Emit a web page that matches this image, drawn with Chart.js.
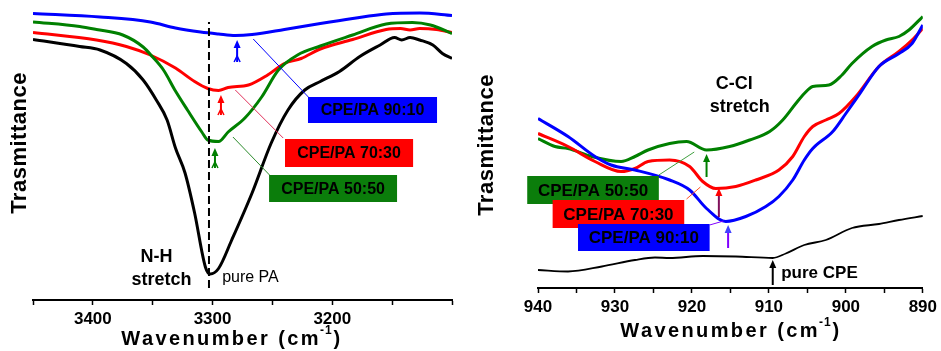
<!DOCTYPE html>
<html>
<head>
<meta charset="utf-8">
<script src="https://cdn.jsdelivr.net/npm/chart.js@4.4.1/dist/chart.umd.min.js"></script>
<style>
  html, body { margin: 0; padding: 0; background: #fff; }
  #wrap { position: relative; width: 941px; height: 351px; }
  #leftBox { position: absolute; left: 0; top: 0; width: 470px; height: 351px; }
  #rightBox { position: absolute; left: 470px; top: 0; width: 471px; height: 351px; }
</style>
</head>
<body>
<div id="wrap">
  <div id="leftBox"><canvas id="nhChart" width="470" height="351"></canvas></div>
  <div id="rightBox"><canvas id="ccChart" width="471" height="351"></canvas></div>
</div>
<script>
// ---- N-H stretch region (left panel) ----
const nhTicks = [3400, 3300, 3200];

const nh9010_wn = [3450, 3394, 3352, 3331, 3310, 3295, 3281, 3267, 3240, 3210, 3183, 3155, 3127, 3100];
const nh9010_t  = [286.5, 283, 278, 272, 268, 266, 264.5, 265.5, 270.5, 276.5, 281.5, 286, 287, 284.5];

const nh5050_wn = [3450, 3411, 3397, 3375, 3358, 3350, 3341, 3331, 3321, 3309, 3304, 3295, 3287, 3273, 3259, 3245, 3229, 3210, 3183, 3155, 3133, 3118, 3100];
const nh5050_t  = [278, 273.5, 270.5, 265, 253, 243, 230, 209, 190, 168, 160, 158.5, 168, 182, 203, 230, 245, 254, 265, 276, 277.5, 275, 266.5];

const nh7030_wn = [3450, 3397, 3372, 3352, 3331, 3315, 3304, 3295, 3287, 3270, 3254, 3240, 3226, 3210, 3183, 3155, 3143, 3135, 3127, 3113, 3100];
const nh7030_t  = [267.5, 260, 253.5, 245, 232, 218.5, 211.5, 209.5, 212.5, 215, 225, 236.5, 241.5, 251, 260.5, 270.5, 271.5, 270, 271.5, 270.5, 267.5];

const nhPA_wn = [3450, 3411, 3394, 3372, 3358, 3347, 3338, 3331, 3323, 3315, 3306, 3302, 3295, 3284, 3267, 3251, 3237, 3223, 3210, 3194, 3177, 3160, 3148, 3142, 3135, 3127, 3116, 3108, 3100];
const nhPA_t  = [260.5, 253.5, 250, 236.5, 220, 200, 180, 152, 127, 87, 33, 26, 31.5, 60, 107, 157, 190, 210, 218.5, 228.5, 243.5, 255, 262.5, 260, 262.5, 260, 255, 246.5, 241.5];

// ---- C-Cl stretch region (right panel) ----
const ccTicks = [940, 930, 920, 910, 900, 890];

const cc5050_wn = [940, 937.8, 936.1, 933, 929.2, 927.4, 925.7, 922.9, 920.7, 918.1, 915.1, 912.5, 909.9, 908.2, 906.5, 905.4, 904.3, 902.2, 900.5, 899.2, 896.6, 894.8, 893.1, 891.8, 890];
const cc5050_t  = [149.5, 141.5, 139.5, 131.5, 126.5, 131.5, 138, 144.5, 146.5, 138, 141.5, 148, 156.5, 168, 184.5, 194.5, 201.5, 203, 213, 224.5, 241.5, 248, 251.5, 258, 271.5];

const cc7030_wn = [940, 936.1, 932.6, 929.2, 927.4, 925.7, 922.9, 920.3, 918.6, 916.9, 914.3, 911.7, 908.7, 906.9, 905.4, 904.3, 902.6, 900.9, 898.7, 895.7, 893.1, 891.4, 890];
const cc7030_t  = [154.5, 141.5, 126.5, 116.5, 119.5, 126.5, 128, 121.5, 106.5, 99.5, 101.5, 108, 118, 131.5, 151.5, 161.5, 168, 174.5, 191.5, 221.5, 236.5, 248, 259.5];

const cc9010_wn = [940, 936.1, 932.6, 930.5, 927.4, 922.9, 920.3, 918.1, 915.6, 913, 910.4, 908.7, 906.9, 905.4, 904.3, 901.7, 900, 898.3, 895.7, 893.1, 891.4, 890];
const cc9010_t  = [169.5, 151.5, 131.5, 123, 118, 108, 98, 79.5, 66.5, 71.5, 81.5, 91.5, 108, 128, 139.5, 156.5, 174.5, 193, 221.5, 234.5, 244.5, 263];

const ccCPE_wn = [940, 936.1, 931.7, 927.4, 924.8, 922.9, 918.6, 914.3, 909.5, 907.8, 905.4, 902.6, 899.2, 895.7, 893.1, 890];
const ccCPE_t  = [18, 16.5, 21.5, 28, 30.5, 30, 32, 31.5, 30, 34.5, 43, 48, 60, 64, 68, 72];

const FONT = "'Liberation Sans', Arial, Helvetica, sans-serif";
const BLUE = '#0000ff', RED = '#ff0000', GREEN = '#008000';

function toPoints(wn, t) {
    return wn.map((w, i) => ({ x: w, y: t[i] }));
}

function lineSet(label, wn, t, color, width) {
    return {
        label: label,
        data: toPoints(wn, t),
        borderColor: color,
        borderWidth: width,
        pointRadius: 0,
        fill: false,
        cubicInterpolationMode: 'monotone'
    };
}

// draws titles, label boxes, leader lines and arrows on top of the chart
function annotPlugin(spec) {
    return {
        id: 'annot',
        afterDraw(chart) {
            const ctx = chart.ctx;
            const px = v => chart.scales.x.getPixelForValue(v);
            const py = v => chart.scales.y.getPixelForValue(v);
            ctx.save();

            // y title
            ctx.save();
            ctx.translate(spec.yTitle.x, spec.yTitle.y);
            ctx.rotate(-Math.PI / 2);
            ctx.font = 'bold 22px ' + FONT;
            ctx.letterSpacing = '0.5px';
            ctx.fillStyle = '#000';
            ctx.textAlign = 'center';
            ctx.textBaseline = 'middle';
            ctx.fillText('Trasmittance', 0, 0);
            ctx.restore();

            // x title with superscript
            ctx.save();
            ctx.fillStyle = '#000';
            ctx.textBaseline = 'alphabetic';
            ctx.textAlign = 'left';
            const mainFont = 'bold 20px ' + FONT, supFont = 'bold 12px ' + FONT;
            ctx.letterSpacing = '2.4px';
            ctx.font = mainFont;
            const w1 = ctx.measureText('Wavenumber (cm').width;
            const w3 = ctx.measureText(')').width;
            ctx.font = supFont;
            ctx.letterSpacing = '1px';
            const w2 = ctx.measureText('-1').width;
            let xs = spec.xTitle.x - (w1 + w2 + w3) / 2;
            const yb = spec.xTitle.y;
            ctx.font = mainFont; ctx.letterSpacing = '2.4px';
            ctx.fillText('Wavenumber (cm', xs, yb);
            ctx.font = supFont; ctx.letterSpacing = '1px';
            ctx.fillText('-1', xs + w1 - 1, yb - 11);
            ctx.font = mainFont; ctx.letterSpacing = '2.4px';
            ctx.fillText(')', xs + w1 + w2, yb);
            ctx.restore();
            ctx.letterSpacing = '0px';

            // dashed marker line
            (spec.dashes || []).forEach(d => {
                ctx.save();
                ctx.strokeStyle = '#000';
                ctx.lineWidth = 2;
                ctx.setLineDash([8, 4]);
                ctx.beginPath();
                ctx.moveTo(px(d.x), py(d.y0));
                ctx.lineTo(px(d.x), py(d.y1));
                ctx.stroke();
                ctx.restore();
            });

            // leader lines
            spec.leaders.forEach(l => {
                ctx.strokeStyle = l.color;
                ctx.lineWidth = 1;
                ctx.beginPath();
                ctx.moveTo(px(l.x1), py(l.y1));
                ctx.lineTo(px(l.x2), py(l.y2));
                ctx.stroke();
            });

            // label boxes
            spec.boxes.forEach(b => {
                const x1 = px(b.x1), x2 = px(b.x2), y1 = py(b.y1), y2 = py(b.y2);
                ctx.fillStyle = b.color;
                ctx.fillRect(x1, y1, x2 - x1, y2 - y1);
                ctx.fillStyle = '#000';
                ctx.font = 'bold ' + b.size + 'px ' + FONT;
                ctx.textAlign = 'center';
                ctx.textBaseline = 'middle';
                ctx.fillText(b.text, (x1 + x2) / 2, (y1 + y2) / 2 + 1);
            });

            // arrows
            spec.arrows.forEach(a => {
                const x = px(a.x), yb = py(a.y0), yt = py(a.y1);
                ctx.strokeStyle = a.shaft || a.color;
                ctx.lineWidth = 2;
                ctx.beginPath();
                ctx.moveTo(x, yb);
                ctx.lineTo(x, yt + 6);
                ctx.stroke();
                ctx.fillStyle = a.color;
                ctx.beginPath();
                ctx.moveTo(x, yt);
                ctx.lineTo(x - 3.5, yt + 8);
                ctx.lineTo(x + 3.5, yt + 8);
                ctx.closePath();
                ctx.fill();
                if (a.tail) {
                    ctx.strokeStyle = a.color;
                    ctx.lineWidth = 1.5;
                    ctx.beginPath();
                    ctx.moveTo(x - 3, yb);
                    ctx.lineTo(x, yb - 6);
                    ctx.lineTo(x + 3, yb);
                    ctx.stroke();
                }
            });

            // free texts
            spec.texts.forEach(t => {
                ctx.fillStyle = '#000';
                ctx.font = t.font + 'px ' + FONT;
                ctx.textAlign = t.align;
                ctx.textBaseline = 'alphabetic';
                ctx.fillText(t.text, px(t.x), py(t.y));
            });

            ctx.restore();
        }
    };
}

function xAxis(min, max, step, major) {
    return {
        type: 'linear',
        reverse: true,
        min: min,
        max: max,
        border: { display: true, color: '#000', width: 2 },
        grid: { display: true, drawOnChartArea: false, drawTicks: true, tickLength: 5, tickColor: '#000', tickWidth: 1.5 },
        ticks: {
            stepSize: step,
            autoSkip: false,
            maxRotation: 0,
            padding: 4,
            color: '#000',
            font: { family: FONT, size: 17, weight: 'bold' },
            callback: v => major.includes(v) ? String(v) : ''
        }
    };
}

function baseOptions(xScale, yMax, pad) {
    return {
        responsive: false,
        animation: false,
        devicePixelRatio: 1,
        events: [],
        layout: { padding: pad },
        plugins: { legend: { display: false }, tooltip: { enabled: false } },
        scales: {
            x: xScale,
            y: { display: false, min: 0, max: yMax }
        }
    };
}

// left chart: N-H stretch
new Chart(document.getElementById('nhChart').getContext('2d'), {
    type: 'line',
    data: {
        datasets: [
            lineSet('pure PA', nhPA_wn, nhPA_t, '#000', 3),
            lineSet('CPE/PA 50:50', nh5050_wn, nh5050_t, GREEN, 3),
            lineSet('CPE/PA 70:30', nh7030_wn, nh7030_t, RED, 3),
            lineSet('CPE/PA 90:10', nh9010_wn, nh9010_t, BLUE, 3)
        ]
    },
    options: baseOptions(xAxis(3100, 3450, 50, nhTicks), 295, { left: 33, right: 18, top: 5, bottom: 17.6 }),
    plugins: [annotPlugin({
        yTitle: { x: 20, y: 143 },
        xTitle: { x: 232, y: 345 },
        dashes: [{ x: 3303, y0: 12, y1: 278 }],
        leaders: [
            { x1: 3266, y1: 261, x2: 3220, y2: 203, color: BLUE },
            { x1: 3281, y1: 210, x2: 3241, y2: 162, color: '#e0305a' },
            { x1: 3283, y1: 163, x2: 3250, y2: 122, color: '#2a8a2a' }
        ],
        boxes: [
            { x1: 3220.3, x2: 3112.5, y1: 203, y2: 177, color: BLUE, text: 'CPE/PA 90:10', size: 16 },
            { x1: 3239.5, x2: 3132.5, y1: 161, y2: 133, color: RED, text: 'CPE/PA 70:30', size: 16 },
            { x1: 3252.8, x2: 3145.9, y1: 125, y2: 98, color: '#0b7d0b', text: 'CPE/PA 50:50', size: 16 }
        ],
        arrows: [
            { x: 3279.5, y0: 238, y1: 260, color: BLUE, tail: true },
            { x: 3293, y0: 185, y1: 205, color: RED, tail: true },
            { x: 3298, y0: 132, y1: 152, color: GREEN, tail: true }
        ],
        texts: [
            { text: 'N-H', x: 3346.8, y: 38, align: 'center', font: 'bold 18' },
            { text: 'stretch', x: 3342.6, y: 15, align: 'center', font: 'bold 18' },
            { text: 'pure PA', x: 3292, y: 18, align: 'left', font: '16' }
        ]
    })]
});

// right chart: C-Cl stretch
new Chart(document.getElementById('ccChart').getContext('2d'), {
    type: 'line',
    data: {
        datasets: [
            lineSet('pure CPE', ccCPE_wn, ccCPE_t, '#000', 1.8),
            lineSet('CPE/PA 90:10', cc9010_wn, cc9010_t, BLUE, 3),
            lineSet('CPE/PA 70:30', cc7030_wn, cc7030_t, RED, 3),
            lineSet('CPE/PA 50:50', cc5050_wn, cc5050_t, GREEN, 3)
        ]
    },
    options: baseOptions(xAxis(890, 940, 5, ccTicks), 283, { left: 68, right: 17, top: 5, bottom: 29.6 }),
    plugins: [annotPlugin({
        yTitle: { x: 16.5, y: 145 },
        xTitle: { x: 261, y: 337 },
        leaders: [
            { x1: 924.3, y1: 113, x2: 919.7, y2: 136, color: '#40a040' },
            { x1: 920.7, y1: 89, x2: 918.9, y2: 101, color: '#ff5020' },
            { x1: 917.7, y1: 63, x2: 915.9, y2: 67, color: '#8000ff' }
        ],
        boxes: [
            { x1: 941.4, x2: 924.3, y1: 112, y2: 84, color: '#0b7d0b', text: 'CPE/PA 50:50', size: 17 },
            { x1: 938.1, x2: 921, y1: 88, y2: 60, color: RED, text: 'CPE/PA 70:30', size: 17 },
            { x1: 934.8, x2: 917.7, y1: 64, y2: 37, color: BLUE, text: 'CPE/PA 90:10', size: 17 }
        ],
        arrows: [
            { x: 918.1, y0: 111, y1: 134, color: GREEN },
            { x: 916.5, y0: 71, y1: 100, color: RED, shaft: '#80105a' },
            { x: 915.3, y0: 40, y1: 63, color: '#4040ff', shaft: '#8000ff' },
            { x: 909.5, y0: 3, y1: 28, color: '#000' }
        ],
        texts: [
            { text: 'C-Cl', x: 914.5, y: 199, align: 'center', font: 'bold 18' },
            { text: 'stretch', x: 913.8, y: 176, align: 'center', font: 'bold 18' },
            { text: 'pure CPE', x: 908.4, y: 10, align: 'left', font: 'bold 17' }
        ]
    })]
});
</script>
</body>
</html>
